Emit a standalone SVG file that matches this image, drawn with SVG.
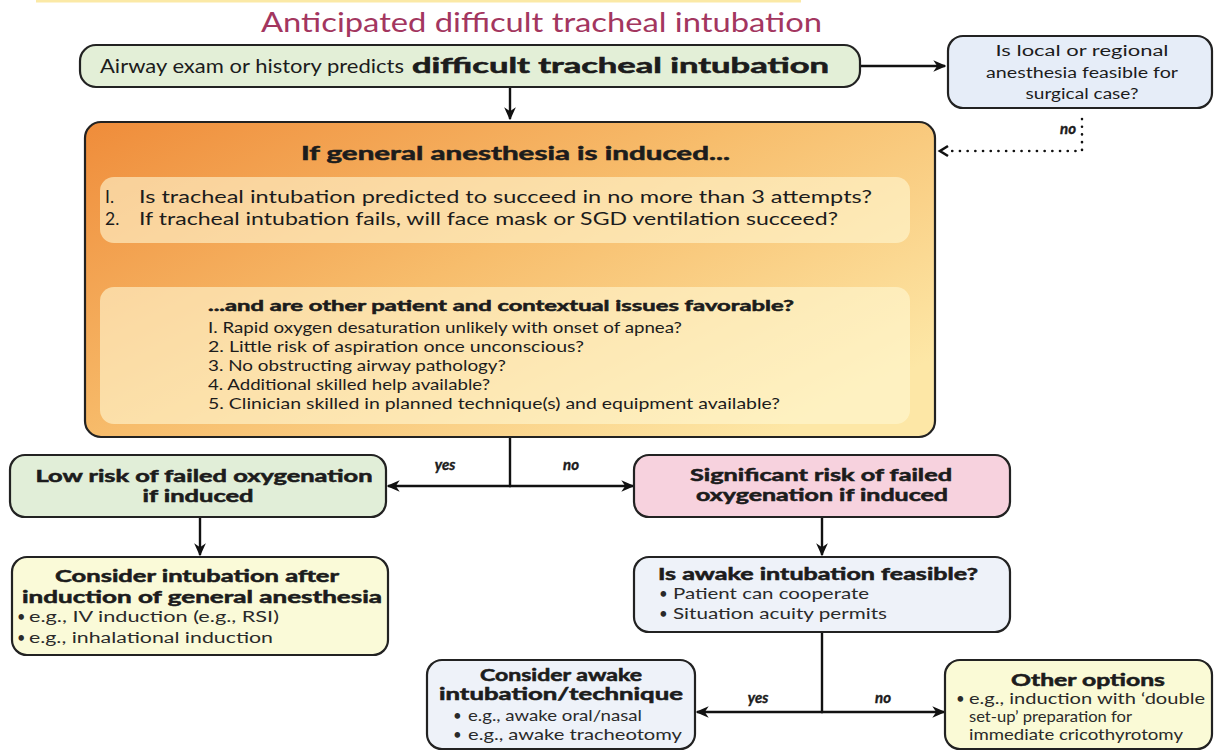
<svg xmlns="http://www.w3.org/2000/svg" width="1214" height="754" viewBox="0 0 1214 754">
<defs>
<linearGradient id="og" x1="0" y1="0" x2="1" y2="0.75">
<stop offset="0" stop-color="#ef8c3a"/>
<stop offset="0.5" stop-color="#f7bd6c"/>
<stop offset="1" stop-color="#fde7a6"/>
</linearGradient>
<marker id="ah" viewBox="0 0 10 10" refX="9" refY="5" markerWidth="13" markerHeight="13" orient="auto" markerUnits="userSpaceOnUse">
<path d="M0,0.5 L10,5 L0,9.5 L3,5 z" fill="#111"/>
</marker>
<style>
text{font-family:Lato,"Open Sans","Liberation Sans",sans-serif;fill:#1c1c1c}
.box{stroke:#222;stroke-width:2.2}
.inner{fill:#fff8d4;fill-opacity:0.6}
.b{font-weight:bold;stroke:#1c1c1c;stroke-width:0.55}
.c{text-anchor:middle}
.lab{font-style:italic;font-weight:bold;font-size:15px;stroke:#1c1c1c;stroke-width:0.4}
.con{fill:none;stroke:#111;stroke-width:2.4;marker-end:url(#ah)}
.ln{fill:none;stroke:#111;stroke-width:2.4}
.s{fill:#2a2a2a}
</style>
</defs>
<rect x="36" y="0" width="765" height="2.5" fill="#fbe9a6"/>
<text x="261" y="32" font-size="26" textLength="561" lengthAdjust="spacingAndGlyphs" style="fill:#a3365f">Anticipated difficult tracheal intubation</text>

<g id="connectors">
<path class="con" d="M861,66 H945"/>
<path class="con" d="M510,88 V119"/>
<path fill="none" stroke="#111" stroke-width="2.6" stroke-linecap="round" stroke-dasharray="0.1,7.6" d="M1082,119 V151 H950"/>
<path fill="none" stroke="#111" stroke-width="2.6" d="M948,146 L940,151 L948,156"/>
<text x="1068" y="134" class="lab c" font-size="13">no</text>
<path class="con" d="M510,246 V283"/>
<path class="ln" d="M510,437 V486"/>
<path class="con" d="M511,486 H388"/>
<path class="con" d="M509,486 H633"/>
<text x="445" y="470" class="lab c">yes</text>
<text x="571" y="470" class="lab c">no</text>
<path class="con" d="M200,518 V555"/>
<path class="con" d="M822,518 V555"/>
<path class="ln" d="M822,632 V712"/>
<path class="con" d="M823,712 H697"/>
<path class="con" d="M821,712 H944"/>
<text x="758" y="703" class="lab c">yes</text>
<text x="883" y="703" class="lab c">no</text>
</g>

<g id="node-airway">
<rect class="box" x="80" y="45" width="780" height="42" rx="16" fill="#e3efd7"/>
<text x="100" y="73" font-size="20" textLength="304" lengthAdjust="spacingAndGlyphs">Airway exam or history predicts</text>
<text x="412" y="73" font-size="20" class="b" textLength="417" lengthAdjust="spacingAndGlyphs">difficult tracheal intubation</text>
</g>

<g id="node-local">
<rect class="box" x="948" y="36" width="264" height="72" rx="15" fill="#e6edf8"/>
<text x="1082" y="56" class="c" font-size="15.5" textLength="173" lengthAdjust="spacingAndGlyphs">Is local or regional</text>
<text x="1082" y="78" class="c" font-size="15.5" textLength="192" lengthAdjust="spacingAndGlyphs">anesthesia feasible for</text>
<text x="1082" y="99" class="c" font-size="15.5" textLength="113" lengthAdjust="spacingAndGlyphs">surgical case?</text>
</g>

<g id="node-general">
<rect class="box" x="85" y="122" width="850" height="315" rx="16" fill="url(#og)"/>
<text x="301" y="160" class="b" font-size="19" textLength="429" lengthAdjust="spacingAndGlyphs">If general anesthesia is induced...</text>
<rect class="inner" x="100" y="177" width="810" height="66" rx="14"/>
<text x="105" y="203" font-size="17.5">I.</text>
<text x="139" y="203" font-size="17.5" textLength="733" lengthAdjust="spacingAndGlyphs">Is tracheal intubation predicted to succeed in no more than 3 attempts?</text>
<text x="105" y="225" font-size="17.5">2.</text>
<text x="139" y="225" font-size="17.5" textLength="699" lengthAdjust="spacingAndGlyphs">If tracheal intubation fails, will face mask or SGD ventilation succeed?</text>
<rect class="inner" x="100" y="287" width="810" height="137" rx="14"/>
<text x="208" y="311" class="b" font-size="15.5" textLength="586" lengthAdjust="spacingAndGlyphs">...and are other patient and contextual issues favorable?</text>
<text x="208" y="333" font-size="15" textLength="474" lengthAdjust="spacingAndGlyphs">I. Rapid oxygen desaturation unlikely with onset of apnea?</text>
<text x="208" y="352" font-size="15" textLength="376" lengthAdjust="spacingAndGlyphs">2. Little risk of aspiration once unconscious?</text>
<text x="208" y="371" font-size="15" textLength="298" lengthAdjust="spacingAndGlyphs">3. No obstructing airway pathology?</text>
<text x="208" y="390" font-size="15" textLength="282" lengthAdjust="spacingAndGlyphs">4. Additional skilled help available?</text>
<text x="208" y="409" font-size="15" textLength="572" lengthAdjust="spacingAndGlyphs">5. Clinician skilled in planned technique(s) and equipment available?</text>
</g>

<g id="node-lowrisk">
<rect class="box" x="10" y="455" width="376" height="62" rx="15" fill="#e1eed8"/>
<text x="204" y="482" class="b c" font-size="17" textLength="337" lengthAdjust="spacingAndGlyphs">Low risk of failed oxygenation</text>
<text x="198" y="502" class="b c" font-size="17" textLength="111" lengthAdjust="spacingAndGlyphs">if induced</text>
</g>

<g id="node-consider-ga">
<rect class="box" x="12" y="557" width="376" height="98" rx="15" fill="#fafad8"/>
<text x="197" y="582" class="b c" font-size="17.5" textLength="284" lengthAdjust="spacingAndGlyphs">Consider intubation after</text>
<text x="202" y="603" class="b c" font-size="17.5" textLength="360" lengthAdjust="spacingAndGlyphs">induction of general anesthesia</text>
<text x="17" y="622" font-size="14.5" class="s">•</text>
<text x="29" y="622" font-size="14.5" class="s" textLength="250" lengthAdjust="spacingAndGlyphs">e.g., IV induction (e.g., RSI)</text>
<text x="17" y="643" font-size="14.5" class="s">•</text>
<text x="29" y="643" font-size="14.5" class="s" textLength="244" lengthAdjust="spacingAndGlyphs">e.g., inhalational induction</text>
</g>

<g id="node-sigrisk">
<rect class="box" x="634" y="455" width="376" height="62" rx="15" fill="#f7d2de"/>
<text x="821" y="481" class="b c" font-size="17" textLength="262" lengthAdjust="spacingAndGlyphs">Significant risk of failed</text>
<text x="822" y="501" class="b c" font-size="17" textLength="252" lengthAdjust="spacingAndGlyphs">oxygenation if induced</text>
</g>

<g id="node-awake-feasible">
<rect class="box" x="634" y="557" width="376" height="75" rx="15" fill="#eef2f9"/>
<text x="658" y="580" class="b" font-size="17" textLength="320" lengthAdjust="spacingAndGlyphs">Is awake intubation feasible?</text>
<text x="659" y="599" font-size="15" class="s">•</text>
<text x="673" y="599" font-size="15" class="s" textLength="196" lengthAdjust="spacingAndGlyphs">Patient can cooperate</text>
<text x="659" y="619" font-size="15" class="s">•</text>
<text x="673" y="619" font-size="15" class="s" textLength="214" lengthAdjust="spacingAndGlyphs">Situation acuity permits</text>
</g>

<g id="node-awake">
<rect class="box" x="427" y="660" width="268" height="89" rx="15" fill="#eef2f9"/>
<text x="561" y="681" class="b c" font-size="17" textLength="162" lengthAdjust="spacingAndGlyphs">Consider awake</text>
<text x="561" y="700" class="b c" font-size="17" textLength="244" lengthAdjust="spacingAndGlyphs">intubation/technique</text>
<text x="453" y="721" font-size="15" class="s">•</text>
<text x="468" y="721" font-size="15" class="s" textLength="174" lengthAdjust="spacingAndGlyphs">e.g., awake oral/nasal</text>
<text x="453" y="740" font-size="15" class="s">•</text>
<text x="468" y="740" font-size="15" class="s" textLength="214" lengthAdjust="spacingAndGlyphs">e.g., awake tracheotomy</text>
</g>

<g id="node-other">
<rect class="box" x="945" y="660" width="267" height="89" rx="15" fill="#fafad6"/>
<text x="1088" y="686" class="b c" font-size="17" textLength="154" lengthAdjust="spacingAndGlyphs">Other options</text>
<text x="956" y="704" font-size="15" class="s">•</text>
<text x="969" y="704" font-size="15" class="s" textLength="236" lengthAdjust="spacingAndGlyphs">e.g., induction with  ‘double</text>
<text x="969" y="722" font-size="15" class="s" textLength="163" lengthAdjust="spacingAndGlyphs">set-up’ preparation for</text>
<text x="969" y="740" font-size="15" class="s" textLength="214" lengthAdjust="spacingAndGlyphs">immediate cricothyrotomy</text>
</g>
</svg>
